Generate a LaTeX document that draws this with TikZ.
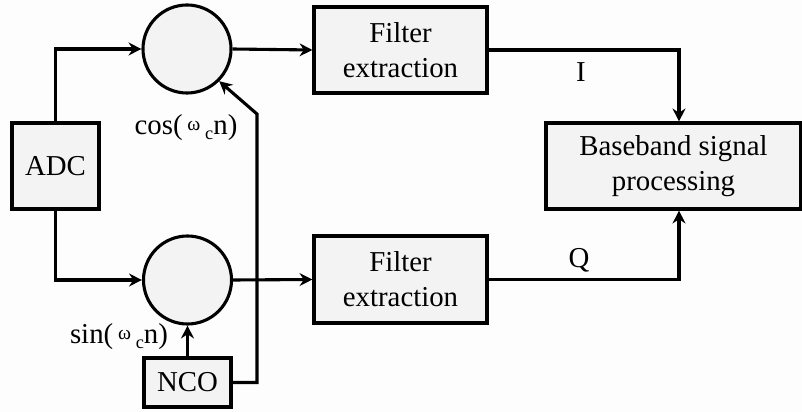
\documentclass[tikz,border=0pt]{standalone}
\usepackage{fontspec}
\setmainfont{Liberation Serif}
\usetikzlibrary{arrows.meta,calc}
\definecolor{boxfill}{HTML}{F3F3F3}
\definecolor{bg}{HTML}{FDFDFD}
\begin{document}
\begin{tikzpicture}[x=0.025cm,y=-0.025cm,
  font=\fontsize{20.5}{25}\selectfont,
  blk/.style={draw, line width=2.2pt, fill=boxfill, rectangle, align=center, inner sep=0pt},
  mix/.style={draw, line width=2.2pt, fill=boxfill, circle, minimum size=2.2cm, inner sep=0pt},
  conn/.style={line width=2.2pt, -{Stealth[length=0.32cm,width=0.32cm]}},
  lbl/.style={inner sep=0pt}]
\fill[bg] (0,0) rectangle (802,412);
\useasboundingbox (0,0) rectangle (802,412);
\node[blk, minimum width=2.175cm, minimum height=2.15cm] (adc) at (55.5,166) {ADC};
\node[mix] (m1) at (187,49) {};
\node[mix] (m2) at (187.5,280) {};
\node[blk, minimum width=2.175cm, minimum height=1.225cm] (nco) at (187.5,382.5) {NCO};
\node[blk, minimum width=4.325cm, minimum height=2.15cm] (f1) at (400.5,50) {Filter\\extraction};
\node[blk, minimum width=4.325cm, minimum height=2.175cm] (f2) at (400.5,279.5) {Filter\\extraction};
\node[blk, minimum width=6.375cm, minimum height=2.15cm] (bb) at (673.5,166) {Baseband signal\\processing};
\coordinate (iq) at (679,166);
\coordinate (bend) at (257,114);
\draw[conn] (adc.north) |- (m1.west);
\draw[conn] (adc.south) |- (m2.west);
\draw[conn] (m1.east) -- (f1.west);
\draw[conn] (m2.east) -- (f2.west);
\draw[conn] (f1.east) -| (iq |- bb.north);
\draw[conn] (f2.east) -| (iq |- bb.south);
\draw[conn] (nco.north) -- (m2.south);
\draw[conn] (nco.east) -| (bend) -- (m1.-45);
\node[lbl] (lcos) at (186,128) {cos(\,\raisebox{0.3ex}{\fontsize{14}{16}\selectfont ω}\,\raisebox{-0.35ex}{\fontsize{13}{15}\selectfont c}n)};
\node[lbl] (lsin) at (119,337) {sin(\,\raisebox{0.3ex}{\fontsize{14}{16}\selectfont ω}\,\raisebox{-0.35ex}{\fontsize{13}{15}\selectfont c}n)};
\node[lbl] (li) at (581,72) {I};
\node[lbl] (lq) at (579,260) {Q};
\end{tikzpicture}
\end{document}
